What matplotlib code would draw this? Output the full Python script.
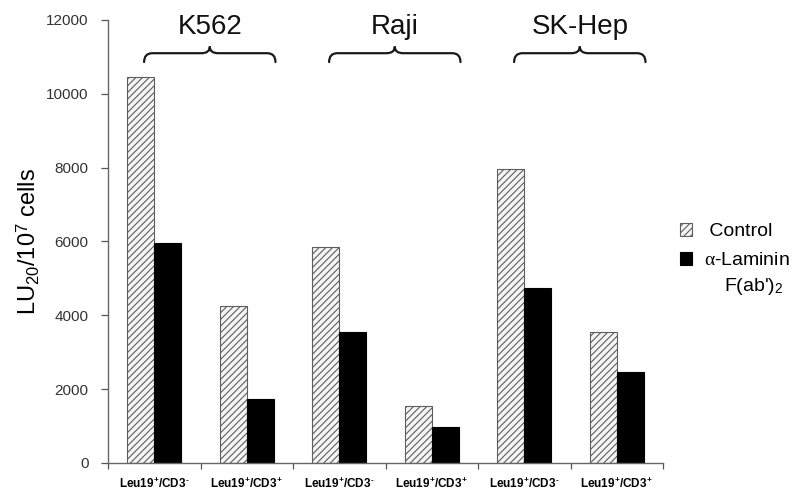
import matplotlib

matplotlib.use("Agg")
import matplotlib.pyplot as plt
from matplotlib.path import Path
from matplotlib.patches import PathPatch
import numpy as np

CATEGORIES = ["$\\mathbf{Leu19^{+}/CD3^{‐}}$", "$\\mathbf{Leu19^{+}/CD3^{+}}$"] * 3
CONTROL = [10450, 4250, 5850, 1550, 7950, 3550]
LAMININ = [5950, 1720, 3550, 980, 4750, 2460]
CELL_LINES = ["K562", "Raji", "SK-Hep"]
Y_TICKS = [0, 2000, 4000, 6000, 8000, 10000, 12000]

plt.rcParams["font.family"] = ["Liberation Sans", "DejaVu Sans"]
plt.rcParams["mathtext.fontset"] = "custom"
plt.rcParams["mathtext.rm"] = "Liberation Sans"
plt.rcParams["mathtext.it"] = "Liberation Serif"
plt.rcParams["mathtext.bf"] = "Liberation Sans:bold"
plt.rcParams["hatch.linewidth"] = 0.8


def draw_brace(ax, xc, half, y_end, y_mid, y_tip, rx, **kw):
    x0, x1 = xc - half, xc + half
    verts = [
        (x0, y_end), (x0, y_mid), (x0 + rx, y_mid),
        (xc - rx, y_mid), (xc, y_mid), (xc, y_tip),
        (xc, y_mid), (xc + rx, y_mid),
        (x1 - rx, y_mid), (x1, y_mid), (x1, y_end),
    ]
    codes = [
        Path.MOVETO, Path.CURVE3, Path.CURVE3,
        Path.LINETO, Path.CURVE3, Path.CURVE3,
        Path.CURVE3, Path.CURVE3,
        Path.LINETO, Path.CURVE3, Path.CURVE3,
    ]
    ax.add_patch(PathPatch(Path(verts, codes), fill=False, capstyle="round", **kw))


fig = plt.figure(figsize=(8.08, 4.93), dpi=100)
ax = fig.add_axes([0.1337, 0.0609, 0.6869, 0.8986])

x = np.arange(len(CATEGORIES))
w = 0.29
b1 = ax.bar(x - w / 2, CONTROL, w, facecolor="#f4f4f4", edgecolor="#5e5e5e",
            hatch="/////", linewidth=0.8, label=" Control", zorder=2)
b2 = ax.bar(x + w / 2, LAMININ, w, color="black", edgecolor="black",
            linewidth=0.8, label="$\\alpha$-Laminin", zorder=2)

ax.set_xlim(-0.5, len(CATEGORIES) - 0.5)
ax.set_ylim(0, 12000)
ax.set_yticks(Y_TICKS)
ax.set_xticks(x)
ax.set_xticklabels(CATEGORIES, fontsize=8.5)
ax.set_xticks(np.arange(len(CATEGORIES) + 1) - 0.5, minor=True)
ax.tick_params(axis="x", which="major", length=0, pad=10)
ax.tick_params(axis="x", which="minor", length=4, width=0.9, color="#555555", direction="out")
ax.tick_params(axis="y", length=5, width=0.9, color="#555555", labelsize=11,
               labelcolor="#333333", pad=9)

for side in ["top", "right"]:
    ax.spines[side].set_visible(False)
for side in ["left", "bottom"]:
    ax.spines[side].set_color("#666666")
    ax.spines[side].set_linewidth(1.0)

ax.set_ylabel("LU$_{20}$/10$^{7}$ cells", fontsize=17, labelpad=3)

# braces over each cell line pair
for i, name in enumerate(CELL_LINES):
    xc = 2 * i + 0.5 + 0.1
    draw_brace(ax, xc, 0.71, 10860, 11100, 11280, 0.09,
               edgecolor="#1a1a1a", linewidth=1.6, zorder=3)
    ax.text(xc, 11620, name, ha="center", va="baseline", fontsize=20, color="#111111")

leg = ax.legend(handles=[b1, b2], loc="upper left", bbox_to_anchor=(0.8293, 0.568),
                bbox_transform=fig.transFigure, frameon=False, fontsize=14,
                handlelength=0.65, handleheight=0.65, handletextpad=0.6,
                borderpad=0, labelspacing=0.6)
ax.annotate("F(ab')$_2$", xy=(0.58, 0), xycoords=leg.get_texts()[1],
            xytext=(0, -5), textcoords="offset points", ha="center", va="top",
            fontsize=14, zorder=10)

fig.savefig("out.png", dpi=100)
